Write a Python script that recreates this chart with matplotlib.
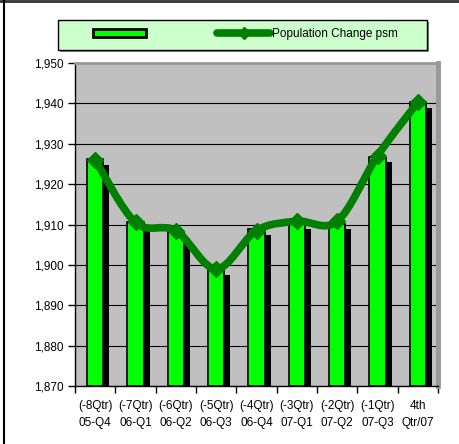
import numpy as np
import matplotlib
matplotlib.use("Agg")
import matplotlib.pyplot as plt
from matplotlib.path import Path
from matplotlib.patches import PathPatch, Rectangle
from matplotlib.lines import Line2D
import matplotlib.patheffects as pe

plt.rcParams['font.family'] = ['Liberation Sans', 'DejaVu Sans']

# data
quarters = ["(-8Qtr)\n05-Q4", "(-7Qtr)\n06-Q1", "(-6Qtr)\n06-Q2", "(-5Qtr)\n06-Q3",
            "(-4Qtr)\n06-Q4", "(-3Qtr)\n07-Q1", "(-2Qtr)\n07-Q2", "(-1Qtr)\n07-Q3",
            "4th\nQtr/07"]
bar_vals = [1926.2, 1910.6, 1908.1, 1898.8, 1908.8, 1910.3, 1910.2, 1926.8, 1940.3]
line_vals = [1926.0, 1910.5, 1908.5, 1899.0, 1908.5, 1910.8, 1910.8, 1927.0, 1940.3]
line_label = "Population Change psm"

fig = plt.figure(figsize=(4.59, 4.44), dpi=100)
ax = fig.add_axes([75/459, 1 - 386/444, 363/459, 323/444])
ax.set_facecolor('#C0C0C0')

x = np.arange(len(quarters))

# bars with black drop shadow
bars = ax.bar(x, [v - 1870 for v in bar_vals], bottom=1870, width=0.4,
              color='#00FF00', edgecolor='black', linewidth=1.2, zorder=3)
for b in bars:
    b.set_path_effects([pe.SimplePatchShadow(offset=(4.5, -4), shadow_rgbFace='black', alpha=1.0),
                        pe.Normal()])

# smoothed line (Catmull-Rom as cubic bezier segments)
pts = np.column_stack([x, line_vals]).astype(float)
verts = [pts[0]]
codes = [Path.MOVETO]
n = len(pts)
for i in range(n - 1):
    p0 = pts[i - 1] if i > 0 else pts[i]
    p1 = pts[i]
    p2 = pts[i + 1]
    p3 = pts[i + 2] if i + 2 < n else pts[i + 1]
    c1 = p1 + (p2 - p0) / 6.0
    c2 = p2 - (p3 - p1) / 6.0
    verts += [c1, c2, p2]
    codes += [Path.CURVE4] * 3
ax.add_patch(PathPatch(Path(verts, codes), facecolor='none', edgecolor='#008000',
                       linewidth=5.5, capstyle='round', joinstyle='round', zorder=4))
ax.plot(x, line_vals, linestyle='none', marker='D', markersize=8,
        color='#008000', zorder=5)

ax.set_xlim(-0.5, len(quarters) - 0.5)
ax.set_ylim(1870, 1950)
ax.set_yticks(np.arange(1870, 1951, 10))
ax.yaxis.set_major_formatter(matplotlib.ticker.FuncFormatter(lambda v, p: f"{int(v):,}"))
ax.grid(axis='y', color='black', linewidth=0.8, zorder=1)
ax.set_axisbelow(True)

ax.set_xticks(x)
ax.set_xticklabels(quarters, linespacing=1.55)
ax.set_xticks(np.arange(-0.5, len(quarters)), minor=True)
ax.tick_params(axis='x', which='major', length=0, pad=10, labelsize=8.5)
ax.tick_params(axis='x', which='minor', length=5, width=1, direction='out')
ax.tick_params(axis='y', length=5, width=1, pad=3, labelsize=8.5)

for s in ['left', 'bottom']:
    ax.spines[s].set_color('black')
    ax.spines[s].set_linewidth(1)
ax.spines['top'].set_color('#999999')
ax.spines['top'].set_linewidth(2)
ax.spines['right'].set_color('#999999')
ax.spines['right'].set_linewidth(3.5)

# legend box
fig.patches.append(Rectangle((60/459, 1 - 52/444), 369/459, 30/444, transform=fig.transFigure,
                             facecolor='#888888', edgecolor='none', zorder=1))
fig.patches.append(Rectangle((58/459, 1 - 50/444), 369/459, 30/444, transform=fig.transFigure,
                             facecolor='#CCFFCC', edgecolor='black', linewidth=1, zorder=2))
h_bar = Rectangle((0, 0), 1, 1, facecolor='#00FF00', edgecolor='black', linewidth=2)
h_line = Line2D([], [], color='#008000', linewidth=5.5, marker='D', markersize=6,
                solid_capstyle='round')
leg = fig.legend([h_bar, h_line], ["", line_label], ncol=2, loc='center left',
                 bbox_to_anchor=(93/459, 1 - 34/444), frameon=False, fontsize=8.5,
                 handlelength=4.5, handletextpad=0.2, columnspacing=5.8,
                 borderpad=0, borderaxespad=0)
leg.set_zorder(3)

# outer border
fig.add_artist(Line2D([0, 1], [1 - 1.5/444, 1 - 1.5/444], transform=fig.transFigure,
                      color='#333333', linewidth=2))
fig.add_artist(Line2D([3.5/459, 3.5/459], [0, 1], transform=fig.transFigure,
                      color='black', linewidth=1.5))

fig.savefig("out.png", dpi=100)
